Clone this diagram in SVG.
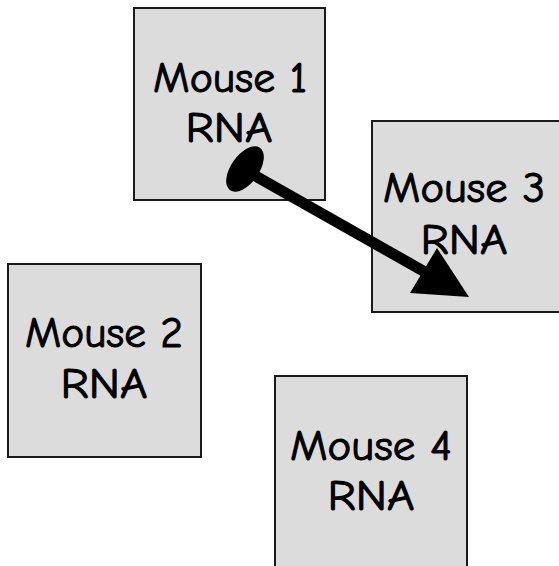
<svg xmlns="http://www.w3.org/2000/svg" width="559" height="566" viewBox="0 0 559 566">
  <style>
    .box { fill: #dcdcdc; stroke: #1a1a1a; stroke-width: 2; }
    .label { font-family: "Comic Sans MS", "Comic Neue", "DejaVu Sans Condensed", "DejaVu Sans", sans-serif; font-stretch: condensed; font-size: 42px; fill: #000; stroke: #000; stroke-width: 1; text-anchor: middle; }
    .link { stroke: #000; stroke-width: 11; fill: none; }
  </style>
  <rect width="559" height="566" fill="#fff"/>

  <g id="mouse1">
    <rect class="box" x="134" y="8" width="191" height="192"/>
    <text class="label" x="230" y="92" textLength="154" lengthAdjust="spacingAndGlyphs">Mouse 1</text>
    <text class="label" x="229" y="142" textLength="87" lengthAdjust="spacingAndGlyphs">RNA</text>
  </g>

  <g id="mouse2">
    <rect class="box" x="8" y="264" width="193" height="193"/>
    <text class="label" x="104" y="347" textLength="158" lengthAdjust="spacingAndGlyphs">Mouse 2</text>
    <text class="label" x="104" y="398" textLength="87" lengthAdjust="spacingAndGlyphs">RNA</text>
  </g>

  <g id="mouse3">
    <rect class="box" x="372" y="121" width="194" height="191"/>
    <text class="label" x="464" y="202" textLength="162" lengthAdjust="spacingAndGlyphs">Mouse 3</text>
    <text class="label" x="464" y="254" textLength="87" lengthAdjust="spacingAndGlyphs">RNA</text>
  </g>

  <g id="mouse4">
    <rect class="box" x="275" y="376" width="192" height="194"/>
    <text class="label" x="371" y="460" textLength="162" lengthAdjust="spacingAndGlyphs">Mouse 4</text>
    <text class="label" x="371" y="510" textLength="87" lengthAdjust="spacingAndGlyphs">RNA</text>
  </g>

  <g id="connectors">
    <ellipse cx="245" cy="169" rx="26" ry="14" transform="rotate(-55 245 169)" fill="#000"/>
    <line class="link" x1="252" y1="174" x2="425" y2="272"/>
    <polygon points="437,248 410,293 469,297" fill="#000"/>
  </g>
</svg>
